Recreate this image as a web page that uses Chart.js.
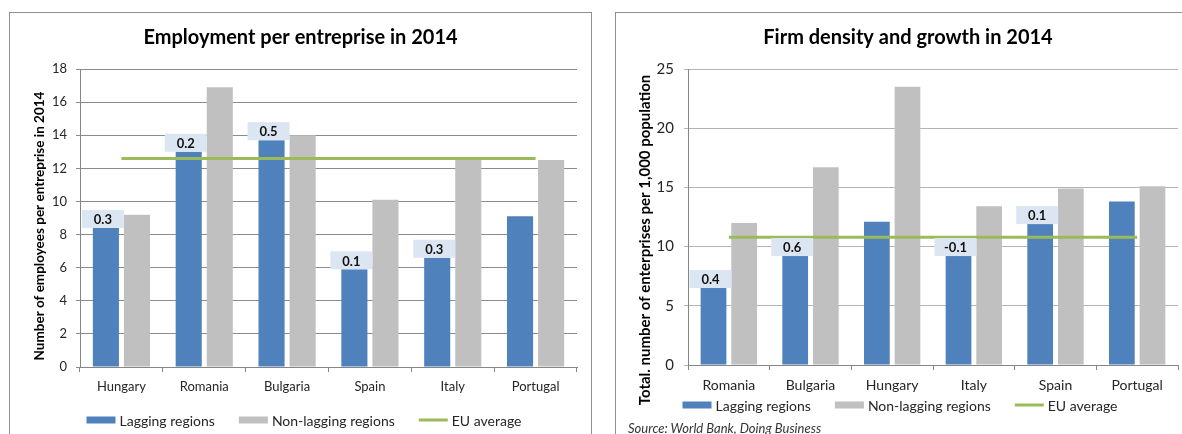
<!DOCTYPE html>
<html>
<head>
<meta charset="utf-8">
<script src="https://cdn.jsdelivr.net/npm/chart.js@4.4.1/dist/chart.umd.min.js"></script>
<style>
  html, body { margin: 0; padding: 0; background: #fff; overflow: hidden; }
  body { width: 1182px; height: 434px; position: relative; font-family: Lato, sans-serif; }
  .panel { position: absolute; border: 1px solid #8e8e8e; box-sizing: border-box; }
  #panelLeft  { left: 9px;   top: 12px; width: 583px; height: 460px; }
  #panelRight { left: 615px; top: 12px; width: 620px; height: 460px; }
  canvas { position: absolute; }
  #employmentChart { left: 10px;  top: 13px; }
  #densityChart    { left: 616px; top: 13px; }
  .source { position: absolute; left: 628px; top: 420px; font: italic 13px Lato, sans-serif; color: #333; }
</style>
</head>
<body>
<div class="panel" id="panelLeft"></div>
<div class="panel" id="panelRight"></div>
<canvas id="employmentChart" width="580" height="440"></canvas>
<canvas id="densityChart" width="566" height="440"></canvas>
<div class="source">Source: World Bank, Doing Business</div>

<script>
/* ---- Data: Employment per entreprise ---- */
const employmentCountries  = ["Hungary", "Romania", "Bulgaria", "Spain", "Italy", "Portugal"];
const employmentLagging    = [8.4, 13.0, 13.7, 5.9, 6.6, 9.1];
const employmentNonLagging = [9.2, 16.9, 14.0, 10.1, 12.6, 12.5];
const employmentEuAverage  = [12.6, 12.6, 12.6, 12.6, 12.6, 12.6];
const employmentGrowth     = ["0.3", "0.2", "0.5", "0.1", "0.3", null];
const employmentAxis       = [0, 18, 2];   // min, max, step

/* ---- Data: Firm density ---- */
const densityCountries  = ["Romania", "Bulgaria", "Hungary", "Italy", "Spain", "Portugal"];
const densityLagging    = [6.5, 9.2, 12.1, 9.2, 11.9, 13.8];
const densityNonLagging = [12.0, 16.7, 23.5, 13.4, 14.9, 15.1];
const densityEuAverage  = [10.8, 10.8, 10.8, 10.8, 10.8, 10.8];
const densityGrowth     = ["0.4", "0.6", null, "-0.1", "0.1", null];
const densityAxis       = [0, 25, 5];

const seriesNames = ["Lagging regions", "Non-lagging regions", "EU average"];

/* ---- Colors ---- */
const palette = {
  blue:  "#4f81bd",
  gray:  "#c0c0c0",
  green: "#9bbb59",
  box:   "#dce6f2",
  text:  "#262626"
};

const FONT = "Lato, 'Open Sans', sans-serif";

// small boxes with growth figures sitting on top of the lagging bars
const growthLabelPlugin = {
  id: "growthLabels",
  afterDatasetsDraw(chart, args, opts) {
    const ctx = chart.ctx;
    const meta = chart.getDatasetMeta(0);
    ctx.save();
    ctx.font = "bold 13px " + FONT;
    ctx.textAlign = "center";
    ctx.textBaseline = "middle";
    meta.data.forEach((bar, i) => {
      const text = opts.labels[i];
      if (text == null) return;
      const w = opts.width, h = opts.height;
      const left = bar.x - w / 2 + opts.shift;
      const top = bar.y - h;
      ctx.fillStyle = palette.box;
      ctx.fillRect(left, top, w, h);
      ctx.fillStyle = "#111";
      ctx.fillText(text, left + w / 2, top + h / 2 + 1);
    });
    ctx.restore();
  }
};

// rotated y-axis title (placed like the spreadsheet original)
const sideTitlePlugin = {
  id: "sideTitle",
  afterDraw(chart, args, opts) {
    const ctx = chart.ctx;
    ctx.save();
    ctx.translate(opts.x, opts.y);
    ctx.rotate(-Math.PI / 2);
    ctx.font = opts.font;
    ctx.fillStyle = "#000";
    ctx.textAlign = "center";
    ctx.textBaseline = "middle";
    ctx.fillText(opts.text, 0, 0);
    ctx.restore();
  }
};

// flat legend row: wide swatches, short gap to text, wide gap between items
const flatLegendPlugin = {
  id: "flatLegend",
  afterDraw(chart, args, opts) {
    const ctx = chart.ctx;
    const sets = chart.data.datasets;
    const swatch = 29, gapText = 4, gapItem = 24;
    ctx.save();
    ctx.font = opts.font;
    ctx.textAlign = "left";
    ctx.textBaseline = "middle";
    const widths = sets.map(ds => swatch + gapText + ctx.measureText(ds.label).width);
    const total = widths.reduce((a, b) => a + b, 0) + gapItem * (sets.length - 1);
    let x = opts.x - total / 2;
    sets.forEach((ds, i) => {
      if (ds.type === "line") {
        ctx.strokeStyle = ds.borderColor;
        ctx.lineWidth = 3;
        ctx.beginPath();
        ctx.moveTo(x, opts.y);
        ctx.lineTo(x + swatch, opts.y);
        ctx.stroke();
      } else {
        ctx.fillStyle = ds.backgroundColor;
        ctx.fillRect(x, opts.y - 3.5, swatch, 7);
      }
      ctx.fillStyle = palette.text;
      ctx.fillText(ds.label, x + swatch + gapText, opts.y + 1);
      x += widths[i] + gapItem;
    });
    ctx.restore();
  }
};

function buildChart(canvasId, cfg) {
  const ctx = document.getElementById(canvasId);
  new Chart(ctx, {
    type: "bar",
    data: {
      labels: cfg.labels,
      datasets: [
        {
          label: seriesNames[0],
          data: cfg.lagging,
          backgroundColor: palette.blue,
          borderWidth: 0,
          categoryPercentage: 0.75,
          barPercentage: 0.84
        },
        {
          label: seriesNames[1],
          data: cfg.nonLagging,
          backgroundColor: palette.gray,
          borderWidth: 0,
          categoryPercentage: 0.75,
          barPercentage: 0.84
        },
        {
          type: "line",
          label: seriesNames[2],
          data: cfg.euAverage,
          borderColor: palette.green,
          backgroundColor: palette.green,
          borderWidth: 3,
          pointRadius: 0,
          order: -1
        }
      ]
    },
    options: {
      responsive: false,
      animation: false,
      layout: { padding: cfg.padding },
      plugins: {
        tooltip: { enabled: false },
        legend: { display: false },
        title: {
          display: true,
          text: cfg.title,
          color: "#000",
          font: { family: FONT, size: 20, weight: "bold" },
          padding: { top: 13, bottom: 19 }
        },
        growthLabels: { labels: cfg.growth, width: 42, height: 18, shift: -3 },
        sideTitle: cfg.sideTitle,
        flatLegend: cfg.legend
      },
      scales: {
        x: {
          afterFit: s => { s.height = 40; },
          grid: { drawOnChartArea: false, tickLength: 5, color: "#868686" },
          border: { color: "#868686" },
          ticks: { color: palette.text, padding: 7, font: { family: FONT, size: cfg.xFont } }
        },
        y: {
          min: cfg.axis[0],
          max: cfg.axis[1],
          afterFit: s => { s.width = cfg.yWidth; },
          grid: { color: cfg.gridColor, tickLength: 4 },
          border: { color: "#868686" },
          ticks: { stepSize: cfg.axis[2], color: palette.text, padding: cfg.yPad, font: { family: FONT, size: cfg.yFont } }
        }
      }
    },
    plugins: [growthLabelPlugin, sideTitlePlugin, flatLegendPlugin]
  });
}

buildChart("employmentChart", {
  title: "Employment per entreprise in 2014",
  labels: employmentCountries,
  lagging: employmentLagging,
  nonLagging: employmentNonLagging,
  euAverage: employmentEuAverage,
  growth: employmentGrowth,
  axis: employmentAxis,
  padding: { left: 14, right: 13, top: 0, bottom: 46 },
  yWidth: 56,
  yPad: 9,
  xFont: 13,
  yFont: 13,
  gridColor: "#8c8c8c",
  sideTitle: { text: "Number of employees per entreprise in 2014", x: 30, y: 213, font: "bold 13.5px " + FONT },
  legend: { x: 294, y: 407, font: "14px " + FONT }
});

buildChart("densityChart", {
  title: "Firm density and growth in 2014",
  labels: densityCountries,
  lagging: densityLagging,
  nonLagging: densityNonLagging,
  euAverage: densityEuAverage,
  growth: densityGrowth,
  axis: densityAxis,
  padding: { left: 22, right: 4, top: 0, bottom: 48 },
  yWidth: 50,
  yPad: 10,
  xFont: 14,
  yFont: 15,
  gridColor: "#b4b4b4",
  sideTitle: { text: "Total. number of enterprises per 1,000 population", x: 29, y: 227, font: "bold 15px " + FONT },
  legend: { x: 284, y: 392, font: "14px " + FONT }
});
</script>
</body>
</html>
